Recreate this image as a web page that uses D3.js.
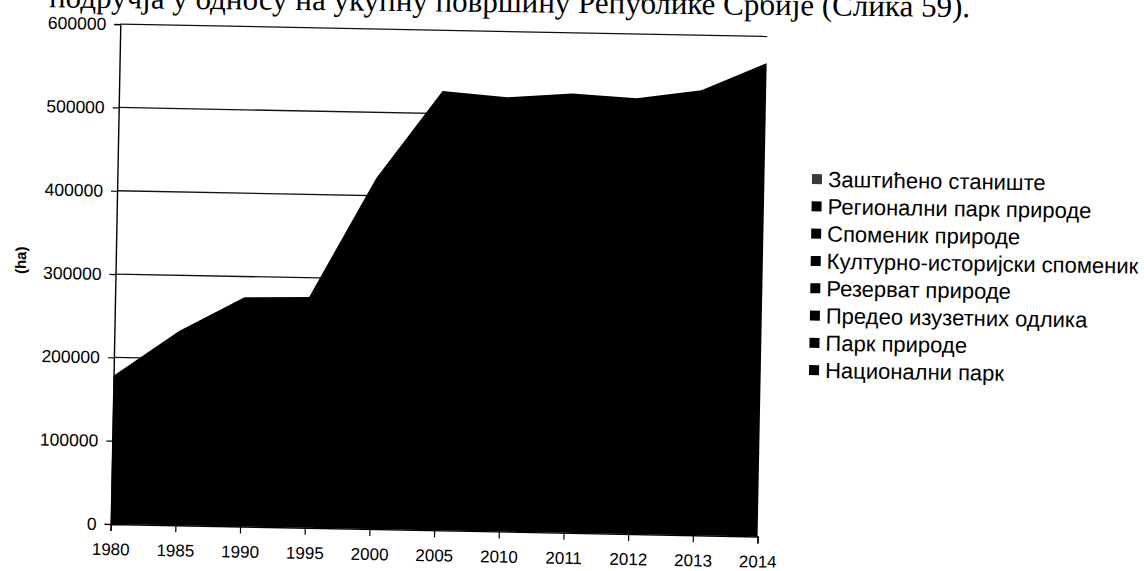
<!DOCTYPE html>
<html><head><meta charset="utf-8">
<script src="https://cdn.jsdelivr.net/npm/d3@7"></script>
<style>body{margin:0;background:#fff}svg{display:block}</style>
</head><body>
<svg id="chart" width="1144" height="571"></svg>
<script>
// ---- data ----
const years = ["1980","1985","1990","1995","2000","2005","2010","2011","2012","2013","2014"];
// all stacked series are printed in black, so only the stacked total is readable
const totals = [178000, 233000, 275000, 277000, 421000, 527000, 521000, 527000, 523000, 534000, 568000];
const seriesNames = ["Заштићено станиште","Регионални парк природе","Споменик природе",
  "Културно-историјски споменик","Резерват природе","Предео изузетних одлика",
  "Парк природе","Национални парк"];
const yTicks = [0,100000,200000,300000,400000,500000,600000];
const yTitle = "(ha)";
const caption = "подручја у односу на укупну површину Републике Србије (Слика 59).";

// ---- layout ----
const tilt = 1.1;            // the scan is slightly rotated
const ox = 110.7, oy = 524;  // plot origin
const W = 647, H = 500;

const svg = d3.select("#chart");

// caption line cut at the top of the page
svg.append("text")
  .attr("transform", `rotate(0.6,970,17)`)
  .attr("x", 970).attr("y", 17)
  .attr("text-anchor", "end")
  .attr("font-family", "Liberation Serif, Times New Roman, serif")
  .attr("font-size", 31)
  .attr("fill", "#000")
  .text(caption);

const g = svg.append("g")
  .attr("transform", `translate(${ox},${oy}) rotate(${tilt})`);

const x = d3.scalePoint().domain(years).range([0, W]).padding(0);
const y = d3.scaleLinear().domain([0, 600000]).range([0, -H]);

// gridlines
g.append("g").selectAll("line").data(yTicks.filter(d => d > 0)).join("line")
  .attr("x1", 0).attr("x2", W)
  .attr("y1", d => y(d)).attr("y2", d => y(d))
  .attr("stroke", "#111").attr("stroke-width", 1.3);

// stacked area (total)
const data = years.map((yr, i) => ({yr, v: totals[i]}));
g.append("path").datum(data)
  .attr("d", d3.area().x(d => x(d.yr)).y0(y(0)).y1(d => y(d.v)))
  .attr("fill", "#000");

// y axis
const yAxis = g.append("g").call(d3.axisLeft(y).tickValues(yTicks).tickSize(6).tickPadding(8).tickFormat(d3.format("d")));
// x axis
const xAxis = g.append("g").call(d3.axisBottom(x).tickSize(7).tickPadding(12));
[yAxis, xAxis].forEach(a => {
  a.select(".domain").attr("stroke", "#000").attr("stroke-width", 1.4);
  a.selectAll(".tick line").attr("stroke", "#000").attr("stroke-width", 1.2);
  a.selectAll("text").attr("font-family", "Liberation Sans, Arial, sans-serif")
    .attr("font-size", 17.5).attr("fill", "#000");
});
xAxis.selectAll("text").attr("font-size", 17)
  .attr("transform", d => `rotate(${-0.3*x(d)/W})`);

// y title
g.append("text")
  .attr("transform", `translate(${-95},${-262}) rotate(-90)`)
  .attr("text-anchor", "middle")
  .attr("dy", "0.35em")
  .attr("font-family", "Liberation Sans, Arial, sans-serif")
  .attr("font-weight", "bold")
  .attr("font-size", 15)
  .text(yTitle);

// legend
const lg = svg.append("g").attr("transform", `translate(812,179) rotate(${tilt*0.8})`);
const rows = lg.selectAll("g").data(seriesNames).join("g")
  .attr("transform", (d, i) => `translate(0,${i*27.3})`);
rows.append("rect").attr("x", 0).attr("y", -5).attr("width", 10).attr("height", 10)
  .attr("fill", (d, i) => i === 0 ? "#3a3a3a" : "#000");
rows.append("text").attr("x", 16).attr("y", 0).attr("dy", "0.35em")
  .attr("font-family", "Liberation Sans, Arial, sans-serif")
  .attr("font-size", 22).attr("fill", "#000")
  .text(d => d);
</script>
</body></html>
